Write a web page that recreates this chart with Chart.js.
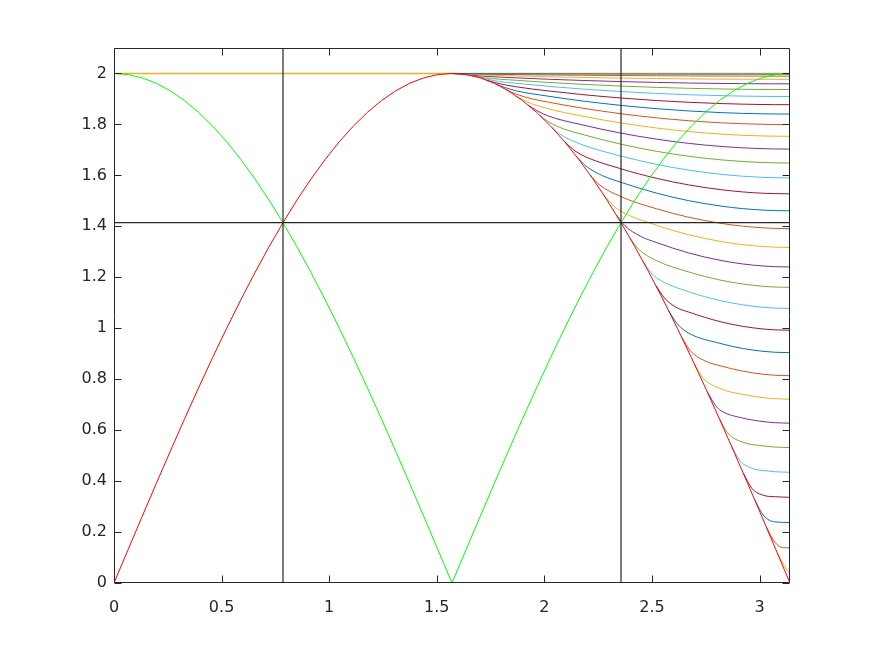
<!DOCTYPE html>
<html>
<head>
<meta charset="utf-8">
<script src="https://cdn.jsdelivr.net/npm/chart.js@4.4.1/dist/chart.umd.min.js"></script>
<style>
  html, body { margin: 0; padding: 0; background: #ffffff; }
  #wrap { width: 875px; height: 656px; }
</style>
</head>
<body>
<div id="wrap"><canvas id="c" width="875" height="656"></canvas></div>
<script>
// ---- data ----
const xGrid = [0, 0.0654, 0.1309, 0.1963, 0.2618, 0.3272, 0.3927, 0.4581, 0.5236, 0.5890, 0.6545, 0.7199, 0.7854, 0.8508, 0.9163, 0.9817, 1.0472, 1.1126, 1.1781, 1.2435, 1.3090, 1.3744, 1.4399, 1.5053, 1.5708, 1.6362, 1.7017, 1.7671, 1.8326, 1.8980, 1.9635, 2.0289, 2.0944, 2.1598, 2.2253, 2.2907, 2.3562, 2.4216, 2.4871, 2.5525, 2.6180, 2.6834, 2.7489, 2.8143, 2.8798, 2.9452, 3.0107, 3.0761, 3.1416];
const redY = [0, 0.1308, 0.2611, 0.3902, 0.5176, 0.6429, 0.7654, 0.8846, 1.0000, 1.1111, 1.2175, 1.3187, 1.4142, 1.5037, 1.5867, 1.6629, 1.7321, 1.7937, 1.8478, 1.8939, 1.9319, 1.9616, 1.9829, 1.9957, 2.0000, 1.9957, 1.9829, 1.9616, 1.9319, 1.8939, 1.8478, 1.7937, 1.7321, 1.6629, 1.5867, 1.5037, 1.4142, 1.3187, 1.2175, 1.1111, 1.0000, 0.8846, 0.7654, 0.6429, 0.5176, 0.3902, 0.2611, 0.1308, 0];
const greenY = [2.0000, 1.9957, 1.9829, 1.9616, 1.9319, 1.8939, 1.8478, 1.7937, 1.7321, 1.6629, 1.5867, 1.5037, 1.4142, 1.3187, 1.2175, 1.1111, 1.0000, 0.8846, 0.7654, 0.6429, 0.5176, 0.3902, 0.2611, 0.1308, 0, 0.1308, 0.2611, 0.3902, 0.5176, 0.6429, 0.7654, 0.8846, 1.0000, 1.1111, 1.2175, 1.3187, 1.4142, 1.5037, 1.5867, 1.6629, 1.7321, 1.7937, 1.8478, 1.8939, 1.9319, 1.9616, 1.9829, 1.9957, 2.0000];

const flatX = [0, 3.1416];
const flatY = [2, 2];
const vLine1X = [0.7854, 0.7854];
const vLine2X = [2.3562, 2.3562];
const vLineY = [0, 2.1];
const hLineX = [0, 3.1416];
const hLineY = [1.4142, 1.4142];

// family of curves leaving the red curve (x positions and values per curve)
const gridX = [1.5708, 1.7208, 1.8708, 2.0208, 2.1708, 2.3562, 2.5208, 2.6708, 2.8208, 2.9208, 3.0208, 3.0708, 3.1416];
const k00y = [2, 1.9993, 1.9989, 1.9985, 1.9982, 1.9979, 1.9977, 1.9975, 1.9974, 1.9974, 1.9973, 1.9973, 1.9973];
const k01y = [2, 1.9973, 1.9956, 1.9942, 1.9931, 1.9919, 1.9910, 1.9904, 1.9900, 1.9898, 1.9897, 1.9897, 1.9896];
const k02y = [2, 1.9939, 1.9902, 1.9871, 1.9846, 1.9819, 1.9801, 1.9788, 1.9778, 1.9774, 1.9771, 1.9770, 1.9770];
const k03y = [2, 1.9892, 1.9827, 1.9773, 1.9728, 1.9681, 1.9649, 1.9626, 1.9609, 1.9601, 1.9596, 1.9595, 1.9594];
const k04x = [1.6506, 1.6906, 1.7208, 1.8708, 2.0208, 2.1708, 2.3562, 2.5208, 2.6708, 2.8208, 2.9208, 3.0208, 3.0708, 3.1416];
const k04y = [1.9936, 1.9880, 1.9833, 1.9731, 1.9647, 1.9577, 1.9505, 1.9454, 1.9418, 1.9392, 1.9380, 1.9372, 1.9370, 1.9369];
const k05x = [1.6888, 1.7288, 1.7908, 1.8708, 2.0208, 2.1708, 2.3562, 2.5208, 2.6708, 2.8208, 2.9208, 3.0208, 3.0708, 3.1416];
const k05y = [1.9861, 1.9781, 1.9687, 1.9613, 1.9494, 1.9393, 1.9290, 1.9217, 1.9166, 1.9129, 1.9111, 1.9101, 1.9098, 1.9096];
const k06x = [1.7306, 1.7706, 1.8708, 2.0208, 2.1708, 2.3562, 2.5208, 2.6708, 2.8208, 2.9208, 3.0208, 3.0708, 3.1416];
const k06y = [1.9745, 1.9641, 1.9475, 1.9313, 1.9176, 1.9037, 1.8938, 1.8869, 1.8819, 1.8796, 1.8781, 1.8777, 1.8775];
const k07x = [1.7753, 1.8153, 1.8708, 2.0208, 2.1708, 2.3562, 2.5208, 2.6708, 2.8208, 2.9208, 3.0208, 3.0708, 3.1416];
const k07y = [1.9583, 1.9453, 1.9316, 1.9105, 1.8927, 1.8747, 1.8619, 1.8529, 1.8464, 1.8434, 1.8415, 1.8410, 1.8407];
const k08x = [1.8232, 1.8632, 1.9408, 2.0208, 2.1708, 2.3562, 2.5208, 2.6708, 2.8208, 2.9208, 3.0208, 3.0708, 3.1416];
const k08y = [1.9366, 1.9208, 1.9007, 1.8871, 1.8647, 1.8420, 1.8259, 1.8146, 1.8064, 1.8027, 1.8004, 1.7997, 1.7993];
const k09x = [1.8733, 1.9133, 2.0208, 2.1708, 2.3562, 2.5208, 2.6708, 2.8208, 2.9208, 3.0208, 3.0708, 3.1416];
const k09y = [1.9092, 1.8905, 1.8610, 1.8336, 1.8057, 1.7860, 1.7721, 1.7621, 1.7575, 1.7547, 1.7538, 1.7534];
const k10x = [1.9258, 1.9658, 2.0208, 2.1708, 2.3562, 2.5208, 2.6708, 2.8208, 2.9208, 3.0208, 3.0708, 3.1416];
const k10y = [1.8753, 1.8536, 1.8323, 1.7993, 1.7658, 1.7423, 1.7256, 1.7136, 1.7081, 1.7046, 1.7037, 1.7032];
const k11x = [1.9804, 2.0204, 2.0908, 2.1708, 2.3562, 2.5208, 2.6708, 2.8208, 2.9208, 3.0208, 3.0708, 3.1416];
const k11y = [1.8346, 1.8098, 1.7821, 1.7621, 1.7224, 1.6946, 1.6751, 1.6610, 1.6545, 1.6503, 1.6492, 1.6486];
const k12x = [2.0364, 2.0764, 2.1708, 2.3562, 2.5208, 2.6708, 2.8208, 2.9208, 3.0208, 3.0708, 3.1416];
const k12y = [1.7871, 1.7594, 1.7220, 1.6758, 1.6434, 1.6206, 1.6043, 1.5968, 1.5920, 1.5907, 1.5900];
const k13x = [2.0936, 2.1336, 2.1708, 2.3562, 2.5208, 2.6708, 2.8208, 2.9208, 3.0208, 3.0708, 3.1416];
const k13y = [1.7329, 1.7021, 1.6813, 1.6258, 1.5886, 1.5625, 1.5438, 1.5351, 1.5297, 1.5286, 1.5274];
const k14x = [2.1530, 2.1930, 2.2708, 2.3562, 2.5208, 2.6708, 2.8208, 2.9208, 3.0208, 3.0708, 3.1416];
const k14y = [1.6705, 1.6368, 1.5987, 1.5727, 1.5305, 1.5008, 1.4795, 1.4696, 1.4635, 1.4619, 1.4609];
const k15x = [2.2131, 2.2531, 2.3562, 2.5208, 2.6708, 2.8208, 2.9208, 3.0208, 3.0708, 3.1416];
const k15y = [1.6014, 1.5648, 1.5165, 1.4690, 1.4357, 1.4117, 1.4007, 1.3938, 1.3918, 1.3908];
const k16x = [2.2733, 2.3133, 2.3562, 2.5208, 2.6708, 2.8208, 2.9208, 3.0208, 3.0708, 3.1416];
const k16y = [1.5265, 1.4870, 1.4594, 1.4043, 1.3671, 1.3404, 1.3282, 1.3206, 1.3183, 1.3173];
const k17x = [2.3348, 2.3748, 2.4458, 2.5208, 2.6708, 2.8208, 2.9208, 3.0208, 3.0708, 3.1416];
const k17y = [1.4442, 1.4020, 1.3614, 1.3366, 1.2955, 1.2660, 1.2524, 1.2440, 1.2417, 1.2404];
const k18x = [2.3963, 2.4363, 2.5208, 2.6708, 2.8208, 2.9208, 3.0208, 3.0708, 3.1416];
const k18y = [1.3564, 1.3117, 1.2658, 1.2209, 1.1884, 1.1738, 1.1643, 1.1617, 1.1604];
const k19x = [2.4572, 2.4972, 2.5208, 2.6708, 2.8208, 2.9208, 3.0208, 3.0708, 3.1416];
const k19y = [1.2644, 1.2174, 1.1982, 1.1434, 1.1081, 1.0920, 1.0820, 1.0791, 1.0776];
const k20x = [2.5179, 2.5579, 2.6108, 2.6708, 2.8208, 2.9208, 3.0208, 3.0708, 3.1416];
const k20y = [1.1681, 1.1189, 1.0829, 1.0634, 1.0250, 1.0076, 0.9967, 0.9936, 0.9920];
const k21x = [2.5784, 2.6184, 2.6708, 2.8208, 2.9208, 3.0208, 3.0708, 3.1416];
const k21y = [1.0678, 1.0166, 0.9807, 0.9397, 0.9207, 0.9090, 0.9058, 0.9040];
const k22x = [2.6385, 2.6785, 2.7508, 2.8208, 2.9208, 3.0208, 3.0708, 3.1416];
const k22y = [0.9643, 0.9113, 0.8702, 0.8519, 0.8317, 0.8190, 0.8155, 0.8137];
const k23x = [2.6977, 2.7377, 2.8208, 2.9208, 3.0208, 3.0708, 3.1416];
const k23y = [0.8589, 0.8044, 0.7620, 0.7405, 0.7271, 0.7234, 0.7214];
const k24x = [2.7562, 2.7962, 2.8208, 2.9208, 3.0208, 3.0708, 3.1416];
const k24y = [0.7519, 0.6959, 0.6764, 0.6475, 0.6333, 0.6293, 0.6272];
const k25x = [2.8134, 2.8534, 2.9208, 3.0208, 3.0708, 3.1416];
const k25y = [0.6447, 0.5876, 0.5529, 0.5379, 0.5337, 0.5315];
const k26x = [2.8694, 2.9094, 2.9708, 3.0208, 3.0708, 3.1416];
const k26y = [0.5377, 0.4797, 0.4480, 0.4413, 0.4368, 0.4345];
const k27x = [2.9249, 2.9649, 3.0208, 3.0708, 3.1416];
const k27y = [0.4300, 0.3712, 0.3435, 0.3388, 0.3364];
const k28x = [2.9788, 3.0188, 3.0708, 3.1416];
const k28y = [0.3242, 0.2648, 0.2400, 0.2374];
const k29x = [3.0313, 3.0713, 3.1108, 3.1416];
const k29y = [0.2201, 0.1604, 0.1384, 0.1379];
const k30x = [3.0825, 3.1225, 3.1416];
const k30y = [0.1181, 0.0582, 0.0379];

const familyX = [gridX, gridX, gridX, gridX, k04x, k05x, k06x, k07x, k08x, k09x, k10x, k11x, k12x, k13x, k14x, k15x, k16x, k17x, k18x, k19x, k20x, k21x, k22x, k23x, k24x, k25x, k26x, k27x, k28x, k29x, k30x];
const familyY = [k00y, k01y, k02y, k03y, k04y, k05y, k06y, k07y, k08y, k09y, k10y, k11y, k12y, k13y, k14y, k15y, k16y, k17y, k18y, k19y, k20y, k21y, k22y, k23y, k24y, k25y, k26y, k27y, k28y, k29y, k30y];

const xTickVals = [0, 0.5, 1, 1.5, 2, 2.5, 3];
const xTickLabels = ['0', '0.5', '1', '1.5', '2', '2.5', '3'];
const yTickVals = [0, 0.2, 0.4, 0.6, 0.8, 1, 1.2, 1.4, 1.6, 1.8, 2];
const yTickLabels = ['0', '0.2', '0.4', '0.6', '0.8', '1', '1.2', '1.4', '1.6', '1.8', '2'];

// ---- styling ----
const cycle = ['#0072BD', '#D95319', '#EDB120', '#7E2F8E', '#77AC30', '#4DBEEE', '#A2142F'];
const axisColor = '#262626';

function pts(xs, ys) { return xs.map((x, i) => ({ x: x, y: ys[i] })); }

const datasets = [];
datasets.push({ data: pts(vLine1X, vLineY), borderColor: axisColor, borderWidth: 1.2, order: 0 });
datasets.push({ data: pts(vLine2X, vLineY), borderColor: axisColor, borderWidth: 1.2, order: 0 });
datasets.push({ data: pts(hLineX, hLineY), borderColor: axisColor, borderWidth: 1.2, order: 0 });
datasets.push({ data: pts(xGrid, redY), borderColor: '#FF0000', borderWidth: 1, order: 1 });
datasets.push({ data: pts(xGrid, greenY), borderColor: '#00FF00', borderWidth: 1, order: 2 });
familyY.forEach((ys, k) => {
  datasets.push({ data: pts(familyX[k], ys), borderColor: cycle[k % 7], borderWidth: 1,
                  cubicInterpolationMode: 'monotone', order: 3 });
});
datasets.push({ data: pts(flatX, flatY), borderColor: '#EDB120', borderWidth: 1.3, order: 4 });

const framePlugin = {
  id: 'frame',
  afterDraw(chart) {
    const ctx = chart.ctx;
    const a = chart.chartArea;
    const xs = chart.scales.x, ys = chart.scales.y;
    const L = Math.round(a.left) + 0.5, R = Math.round(a.right) - 0.5;
    const T = Math.round(a.top) + 0.5, B = Math.round(a.bottom) - 0.5;
    ctx.save();
    ctx.strokeStyle = axisColor;
    ctx.lineWidth = 1;
    ctx.beginPath();
    ctx.rect(L, T, R - L, B - T);
    const tl = 7;
    xTickVals.forEach(v => {
      const p = Math.round(xs.getPixelForValue(v)) + 0.5;
      ctx.moveTo(p, B); ctx.lineTo(p, B - tl);
      ctx.moveTo(p, T); ctx.lineTo(p, T + tl);
    });
    yTickVals.forEach(v => {
      const p = Math.round(ys.getPixelForValue(v)) + 0.5;
      ctx.moveTo(L, p); ctx.lineTo(L + tl, p);
      ctx.moveTo(R, p); ctx.lineTo(R - tl, p);
    });
    ctx.stroke();
    ctx.restore();
  }
};

new Chart(document.getElementById('c'), {
  type: 'line',
  data: { datasets: datasets },
  options: {
    responsive: false,
    animation: false,
    devicePixelRatio: 1,
    layout: { padding: { left: 0, top: 48, right: 85, bottom: 0 } },
    elements: { point: { radius: 0, hoverRadius: 0 }, line: { tension: 0, fill: false } },
    plugins: { legend: { display: false }, tooltip: { enabled: false } },
    events: [],
    scales: {
      x: {
        type: 'linear', min: 0, max: 3.1416,
        grid: { display: false, drawTicks: false },
        border: { display: false },
        afterBuildTicks: s => { s.ticks = xTickVals.map(v => ({ value: v })); },
        afterFit: s => { s.height = 73; },
        ticks: {
          padding: 15, color: axisColor, maxRotation: 0, autoSkip: false,
          font: { family: 'DejaVu Sans', size: 16 },
          callback: (v) => xTickLabels[xTickVals.indexOf(v)]
        }
      },
      y: {
        type: 'linear', min: 0, max: 2.1,
        grid: { display: false, drawTicks: false },
        border: { display: false },
        afterBuildTicks: s => { s.ticks = yTickVals.map(v => ({ value: v })); },
        afterFit: s => { s.width = 114; },
        ticks: {
          padding: 7, color: axisColor, autoSkip: false,
          font: { family: 'DejaVu Sans', size: 16 },
          callback: (v) => yTickLabels[yTickVals.indexOf(v)]
        }
      }
    }
  },
  plugins: [framePlugin]
});
</script>
</body>
</html>
